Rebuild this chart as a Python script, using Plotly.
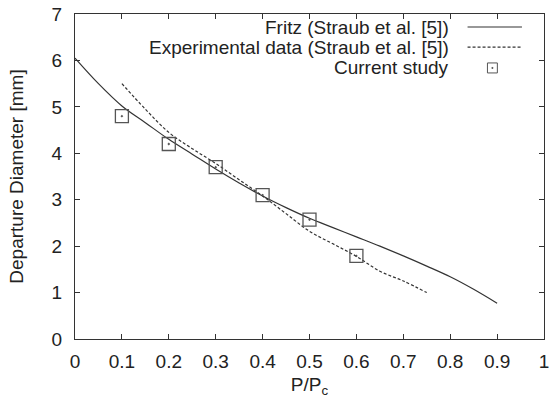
import plotly.graph_objects as go

# Fritz correlation (Straub et al. [5])
fritz_x = [0.0, 0.05, 0.1, 0.15, 0.2, 0.25, 0.3, 0.35, 0.4, 0.45, 0.5, 0.55, 0.6, 0.65, 0.7, 0.75, 0.8, 0.85, 0.9]
fritz_y = [6.05, 5.50, 5.02, 4.66, 4.30, 3.98, 3.66, 3.36, 3.08, 2.83, 2.60, 2.40, 2.20, 2.00, 1.79, 1.57, 1.34, 1.07, 0.77]

# Experimental data (Straub et al. [5])
exp_x = [0.1, 0.15, 0.2, 0.25, 0.3, 0.35, 0.4, 0.45, 0.5, 0.55, 0.6, 0.65, 0.7, 0.75]
exp_y = [5.50, 4.95, 4.45, 4.10, 3.78, 3.43, 3.08, 2.70, 2.32, 2.05, 1.78, 1.46, 1.25, 1.00]

# Current study
cur_x = [0.1, 0.2, 0.3, 0.4, 0.5, 0.6]
cur_y = [4.80, 4.20, 3.70, 3.10, 2.57, 1.79]

legend_labels = ["Fritz (Straub et al. [5])", "Experimental data (Straub et al. [5])", "Current study"]

FONT = "Liberation Sans, Arial, sans-serif"
LINE = "#333333"
FS = 19

fig = go.Figure()
fig.add_trace(go.Scatter(x=fritz_x, y=fritz_y, mode="lines", line=dict(color=LINE, width=1.2, shape="spline"), showlegend=False))
fig.add_trace(go.Scatter(x=exp_x, y=exp_y, mode="lines", line=dict(color=LINE, width=1.2, dash="3px,2px", shape="spline"), showlegend=False))
fig.add_trace(go.Scatter(x=cur_x, y=cur_y, mode="markers",
                         marker=dict(symbol="square-open-dot", size=13, color="#555555", line=dict(width=1.3, color="#555555")),
                         showlegend=False))

# manual legend (gnuplot style: text right-aligned, sample on right)
rows_y = [0.960, 0.898, 0.834]
for lbl, ry in zip(legend_labels, rows_y):
    fig.add_annotation(x=0.801, y=ry, xref="paper", yref="paper", text=lbl, showarrow=False,
                       xanchor="right", yanchor="middle", font=dict(family=FONT, size=FS, color="#222222"))
fig.add_shape(type="line", xref="paper", yref="paper", x0=0.837, x1=0.953, y0=rows_y[0], y1=rows_y[0],
              line=dict(color=LINE, width=1.2))
fig.add_shape(type="line", xref="paper", yref="paper", x0=0.837, x1=0.953, y0=rows_y[1], y1=rows_y[1],
              line=dict(color=LINE, width=1.2, dash="3px,2px"))
fig.add_shape(type="rect", xref="paper", yref="paper", x0=0.890 - 5/473, x1=0.890 + 5/473,
              y0=rows_y[2] - 5/325, y1=rows_y[2] + 5/325, line=dict(color="#555555", width=1))
fig.add_shape(type="rect", xref="paper", yref="paper", x0=0.890 - 0.5/473, x1=0.890 + 0.5/473,
              y0=rows_y[2] - 0.5/325, y1=rows_y[2] + 0.5/325, line=dict(color="#555555", width=1))

axis_common = dict(showgrid=False, zeroline=False, showline=True, linecolor=LINE, linewidth=1.2, mirror="allticks",
                   ticks="inside", ticklen=5, tickcolor=LINE, tickwidth=1, ticklabeloverflow="allow",
                   tickfont=dict(family=FONT, size=FS, color="#222222"))

fig.update_layout(
    width=553, height=398,
    margin=dict(l=75, r=4, t=14, b=59),
    paper_bgcolor="white", plot_bgcolor="white",
    font=dict(family=FONT, size=FS, color="#222222"),
    xaxis=dict(range=[0, 1], tickmode="array", tickvals=[0, 0.1, 0.2, 0.3, 0.4, 0.5, 0.6, 0.7, 0.8, 0.9, 1],
               ticktext=["0", "0.1", "0.2", "0.3", "0.4", "0.5", "0.6", "0.7", "0.8", "0.9", "1"],
               title=dict(text="P/P<sub>c</sub>", font=dict(family=FONT, size=FS), standoff=7),
               ticklabelstandoff=5, **axis_common),
    yaxis=dict(range=[0, 7], tickmode="array", tickvals=[0, 1, 2, 3, 4, 5, 6, 7],
               title=dict(text="Departure Diameter [mm]", font=dict(family=FONT, size=FS), standoff=22),
               ticklabelstandoff=8, **axis_common),
)

fig.write_html("out.html")
